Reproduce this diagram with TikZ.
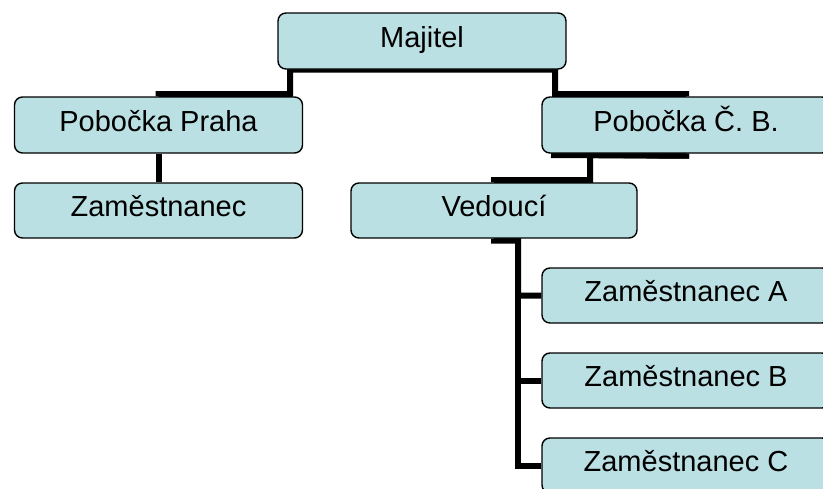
\documentclass[tikz,border=0pt]{standalone}
\usepackage{fontspec}
\setmainfont{Liberation Sans}
\usetikzlibrary{backgrounds}
\definecolor{boxfill}{HTML}{BBE0E3}
\begin{document}
\begin{tikzpicture}[x=1pt,y=-1pt,
  orgbox/.style={draw=black, line width=1.4pt, fill=boxfill, rounded corners=8pt,
    minimum width=288pt, minimum height=56pt, inner sep=0pt,
    text height=20.5pt, text depth=8pt,
    font=\fontsize{29}{33}\selectfont},
  link/.style={line width=6pt, draw=black, line join=miter}]
\useasboundingbox (0,0) rectangle (823,488);
\begin{scope}
\clip (0,0) rectangle (823,488);
\node[orgbox] (maj) at (422,41) {Majitel};
\node[orgbox] (pra) at (158.5,125) {Pobočka Praha};
\node[orgbox] (cb)  at (686,125) {Pobočka Č. B.};
\node[orgbox, minimum height=55pt] (zam) at (158.5,210.5) {Zaměstnanec};
\node[orgbox, minimum height=55pt, minimum width=286pt] (ved) at (494,210.5) {Vedoucí};
\node[orgbox, minimum height=55pt] (za) at (686,295.5) {Zaměstnanec A};
\node[orgbox, minimum height=55pt] (zb) at (686,380.5) {Zaměstnanec B};
\node[orgbox, minimum height=55pt] (zc) at (686,465.5) {Zaměstnanec C};
\end{scope}
\begin{pgfonlayer}{background}
  % owner to both branches
  \draw[link] (maj.south) -- (290,69.5) -- (290,94) -| (pra.north);
  \draw[link] (maj.south) -- (555,69.5) -- (555,94) -| (cb.north);
  % Prague branch
  \draw[link] (pra.south) -- (zam.north);
  % České Budějovice branch
  \draw[link] (cb.south) -- ++(0,2) -- (551,155);
  \draw[link] (cb.south) -- ++(0,2) -- (590,155) -- (590,180) -| (ved.north);
  % manager to employees
  \draw[link] (ved.south) -- ++(0,2) -- (518,240.5) |- (za.west);
  \draw[link] (518,240.5) |- (zb.west);
  \draw[link] (518,240.5) |- (zc.west);
\end{pgfonlayer}
\end{tikzpicture}
\end{document}
